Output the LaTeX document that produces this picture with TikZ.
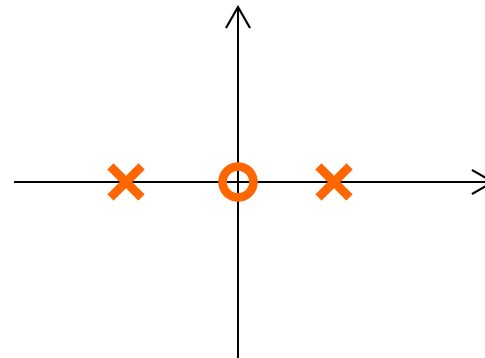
\documentclass[tikz,border=0pt]{standalone}
\usetikzlibrary{arrows.meta}
\definecolor{pz}{HTML}{FF6600}
\begin{document}
\begin{tikzpicture}[x=1pt,y=1pt,
  axis/.style={line width=2pt,black,-{Straight Barb[length=21pt,width=24pt,line width=2pt]}},
  polemark/.style={line width=8.5pt,pz},
  zeromark/.style={circle,draw=pz,line width=8.5pt,minimum size=31pt,inner sep=0pt}]
\useasboundingbox (0,0) rectangle (485,358);
\coordinate (xl) at (14,176);
\coordinate (xr) at (495,176);
\coordinate (yb) at (238,0);
\coordinate (yt) at (238,353);
\draw[axis] (xl) -- (xr);
\draw[axis] (yb) -- (yt);
\node[zeromark] (z0) at (238,176) {};
\coordinate (p1) at (126,176);
\coordinate (p2) at (334,176);
\foreach \p in {p1,p2}{
  \draw[polemark] ([shift={(-15.5,-15.5)}]\p) -- ([shift={(15.5,15.5)}]\p);
  \draw[polemark] ([shift={(-15.5,15.5)}]\p) -- ([shift={(15.5,-15.5)}]\p);
}
\end{tikzpicture}
\end{document}
